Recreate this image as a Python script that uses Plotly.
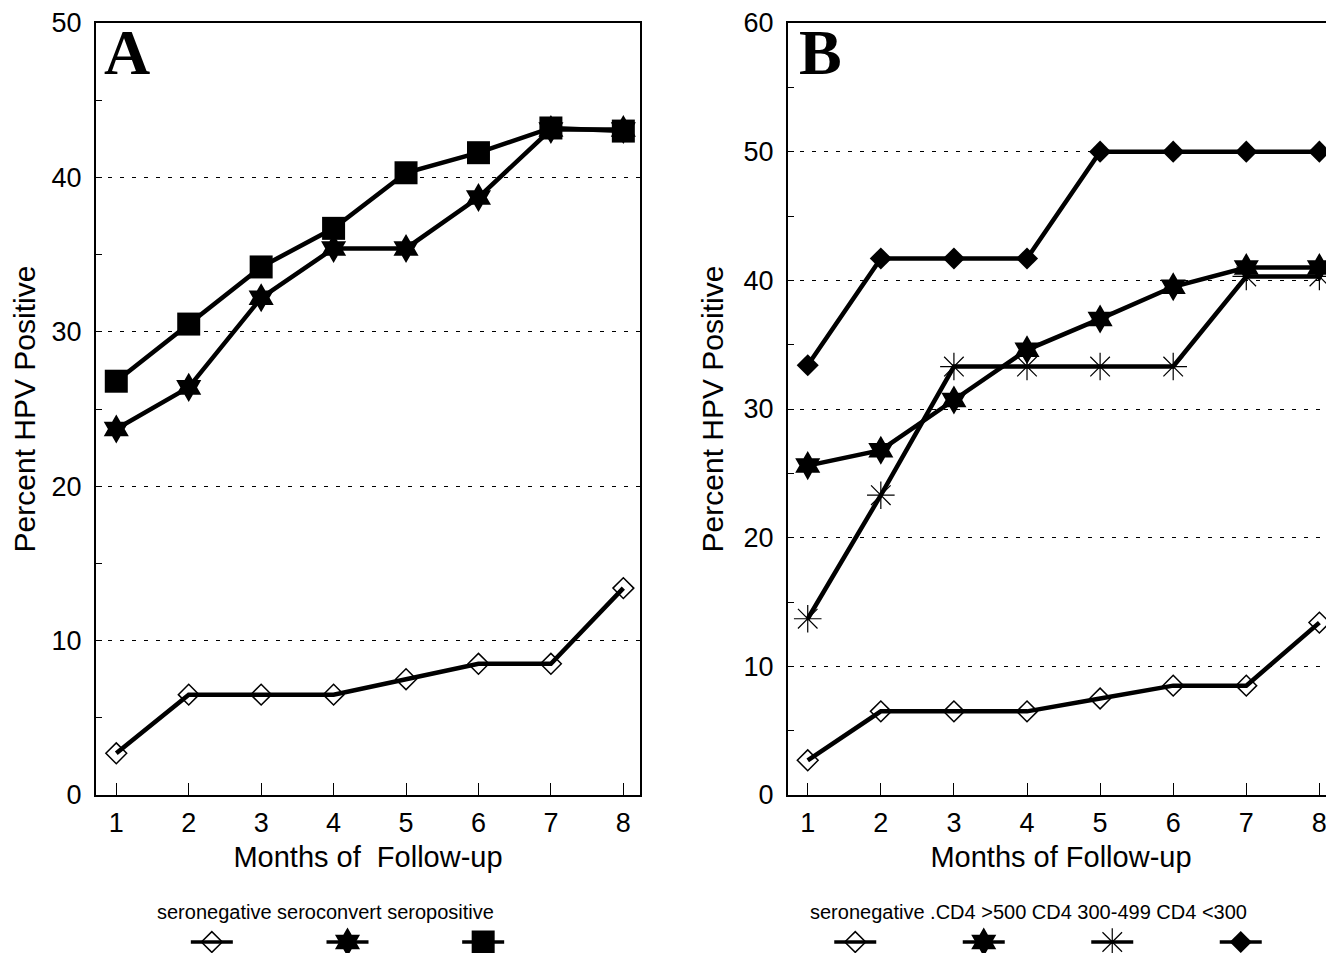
import plotly.graph_objects as go

# ---------------- data ----------------
months = [1, 2, 3, 4, 5, 6, 7, 8]

a_seronegative = [2.7, 6.5, 6.5, 6.5, 7.5, 8.5, 8.5, 13.4]
a_seroconvert = [23.7, 26.4, 32.2, 35.4, 35.4, 38.7, 43.1, 43.1]
a_seropositive = [26.8, 30.5, 34.2, 36.7, 40.3, 41.6, 43.2, 43.0]

b_seronegative = [2.7, 6.5, 6.5, 6.5, 7.5, 8.5, 8.5, 13.4]
b_cd4_gt500 = [25.6, 26.8, 30.7, 34.6, 37.0, 39.5, 41.0, 41.0]
b_cd4_300_499 = [13.7, 23.3, 33.3, 33.3, 33.3, 33.3, 40.3, 40.3]
b_cd4_lt300 = [33.4, 41.7, 41.7, 41.7, 50.0, 50.0, 50.0, 50.0]

a_legend_labels = ["seronegative", "seroconvert", "seropositive"]
b_legend_labels = ["seronegative", ".CD4 >500", "CD4 300-499", "CD4 <300"]

a_yticks = [0, 10, 20, 30, 40, 50]
b_yticks = [0, 10, 20, 30, 40, 50, 60]

# ---------------- styles ----------------
PAGE_W, PAGE_H = 1334, 953
OFF = 8  # default page body margin
W, H = PAGE_W - OFF, PAGE_H - OFF
FONT = "Liberation Sans, Arial, sans-serif"
BLACK = "#000000"

sym_open_diamond = dict(symbol="diamond-open", size=16, color=BLACK, opacity=1, line=dict(width=1.5, color=BLACK))
sym_star = dict(symbol="hexagram", size=22, color=BLACK, opacity=1, line=dict(width=0))
sym_square = dict(symbol="square", size=23, color=BLACK, opacity=1, line=dict(width=0))
sym_asterisk = dict(symbol="asterisk-open", size=23, color=BLACK, opacity=1, line=dict(width=1.2, color=BLACK))
sym_diamond = dict(symbol="diamond", size=17, color=BLACK, opacity=1, line=dict(width=0))

line_style = dict(color=BLACK, width=4.5)


def px_x(p):
    return (p - OFF) / W


def px_y(p):
    return 1 - (p - OFF) / H


fig = go.Figure()

# ---- panel A ----
for name, vals, mk in [
    ("seronegative", a_seronegative, sym_open_diamond),
    ("seroconvert", a_seroconvert, sym_star),
    ("seropositive", a_seropositive, sym_square),
]:
    fig.add_trace(go.Scatter(x=months, y=vals, mode="lines+markers", name=name,
                             line=line_style, marker=mk, xaxis="x", yaxis="y",
                             showlegend=False))

# ---- panel B ----
for name, vals, mk in [
    ("seronegative", b_seronegative, sym_open_diamond),
    ("CD4 >500", b_cd4_gt500, sym_star),
    ("CD4 300-499", b_cd4_300_499, sym_asterisk),
    ("CD4 <300", b_cd4_lt300, sym_diamond),
]:
    fig.add_trace(go.Scatter(x=months, y=vals, mode="lines+markers", name=name,
                             line=line_style, marker=mk, xaxis="x2", yaxis="y2",
                             showlegend=False))

# ---- legend keys (drawn below each panel) ----
def legend_row(labels, markers, xa, ya):
    zeros = [0] * len(labels)
    fig.add_trace(go.Scatter(x=labels, y=zeros, mode="markers", xaxis=xa, yaxis=ya,
                             marker=dict(symbol="line-ew", size=30, color=BLACK, opacity=1,
                                         line=dict(width=3.5, color=BLACK)),
                             cliponaxis=False, showlegend=False, hoverinfo="skip"))
    for lab, m in zip(labels, markers):
        fig.add_trace(go.Scatter(x=[lab], y=[0], mode="markers", xaxis=xa, yaxis=ya,
                                 marker=m, cliponaxis=False, showlegend=False,
                                 hoverinfo="skip"))


legend_row(a_legend_labels, [sym_open_diamond, sym_star, sym_square], "x3", "y3")
legend_row(b_legend_labels, [sym_open_diamond, sym_star, sym_asterisk, sym_diamond], "x4", "y4")

# ---------------- axes ----------------
ydom = [px_y(795), px_y(23)]
tickfont = dict(family=FONT, size=27, color=BLACK)
xtitlefont = dict(family=FONT, size=29, color=BLACK)
ytitlefont = dict(family=FONT, size=30, color=BLACK)

xcommon = dict(tickmode="array", tickvals=months, ticks="inside", ticklen=12, tickwidth=1,
               tickcolor=BLACK, showline=True, linecolor=BLACK, linewidth=2, mirror=True,
               showgrid=False, zeroline=False, tickfont=tickfont, ticklabelstandoff=3)
ycommon = dict(ticks="inside", ticklen=6, tickwidth=1, tickcolor=BLACK, showline=True,
               linecolor=BLACK, linewidth=2, mirror=True, showgrid=True, gridcolor=BLACK,
               gridwidth=1, griddash="4px,8px", zeroline=False, tickfont=tickfont,
               ticklabelstandoff=7,
               minor=dict(dtick=5, ticks="inside", ticklen=6, tickcolor=BLACK, showgrid=False),
               title=dict(text="Percent HPV Positive", font=ytitlefont, standoff=11))

fig.update_layout(
    width=W, height=H,
    margin=dict(l=0, r=0, t=0, b=0),
    paper_bgcolor="white", plot_bgcolor="white",
    template="none",
    showlegend=False,
    xaxis=dict(xcommon, domain=[px_x(96), px_x(640)], range=[0.72, 8.23], anchor="y",
               title=dict(text="Months of  Follow-up", font=xtitlefont, standoff=9)),
    yaxis=dict(ycommon, domain=ydom, range=[0, 50], tickvals=a_yticks, anchor="x"),
    xaxis2=dict(xcommon, domain=[px_x(788), 1.0], range=[0.73, 8.2], anchor="y2",
                title=dict(text="Months of Follow-up", font=xtitlefont, standoff=9)),
    yaxis2=dict(ycommon, domain=ydom, range=[0, 60], tickvals=b_yticks, anchor="x2"),
    xaxis3=dict(domain=[px_x(144), px_x(551)], anchor="y3", visible=False,
                type="category", range=[-0.5, 2.5]),
    yaxis3=dict(domain=[px_y(952), px_y(932)], anchor="x3", visible=False, range=[-1, 1]),
    xaxis4=dict(domain=[px_x(791), px_x(1305)], anchor="y4", visible=False,
                type="category", range=[-0.5, 3.5]),
    yaxis4=dict(domain=[px_y(952), px_y(932)], anchor="x4", visible=False, range=[-1, 1]),
)

legend_font = dict(family=FONT, size=20, color=BLACK)
fig.add_annotation(text=" ".join(a_legend_labels), xref="paper", yref="paper",
                   x=px_x(325), y=px_y(912), showarrow=False, font=legend_font,
                   xanchor="center", yanchor="middle")
fig.add_annotation(text=" ".join(b_legend_labels), xref="paper", yref="paper",
                   x=px_x(1028), y=px_y(912), showarrow=False, font=legend_font,
                   xanchor="center", yanchor="middle")

letter_font = dict(family="Liberation Serif, Times New Roman, serif", size=64, color=BLACK)
fig.add_annotation(text="<b>A</b>", xref="paper", yref="paper", x=px_x(102), y=px_y(52),
                   showarrow=False, font=letter_font, xanchor="left", yanchor="middle")
fig.add_annotation(text="<b>B</b>", xref="paper", yref="paper", x=px_x(797), y=px_y(52),
                   showarrow=False, font=letter_font, xanchor="left", yanchor="middle")

fig.write_html("out.html")
